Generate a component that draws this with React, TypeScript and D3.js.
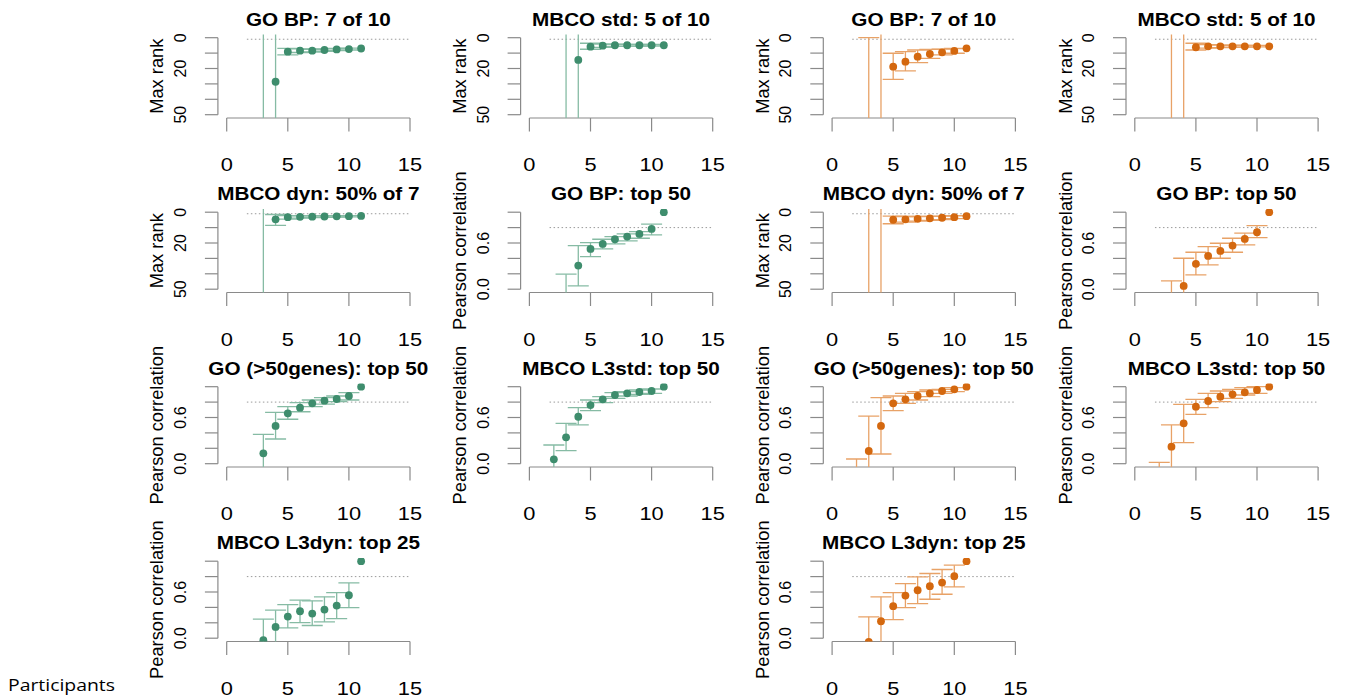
import React from "react";
import * as d3 from "d3";

// ---------- data ----------
const participants = [2, 3, 4, 5, 6, 7, 8, 9, 10, 11];
const xTicks = [0, 5, 10, 15];
const rankTicks = [0, 10, 20, 30, 40, 50];
const rankTickLabels = ["0", "", "20", "", "", "50"];
const corTicks = [0, 0.2, 0.4, 0.6, 0.8, 1.0];
const corTickLabels = ["0.0", "", "", "0.6", "", ""];

// GO BP: 7 of 10 (green)
const goBpRankGMean = [null, null, 28.6, 9.1, 8.4, 8.4, 8.0, 7.6, 7.4, 7.0];
const goBpRankGLo = [null, -5, -5, 6.9, 7.3, 7.5, 7.2, 6.9, 6.8, null];
const goBpRankGHi = [null, 60, 60, 11.2, 9.6, 9.3, 8.8, 8.4, 8.0, null];
// MBCO std: 5 of 10 (green)
const mbcoStdGMean = [null, null, 14.4, 5.8, 5.2, 4.9, 4.9, 4.9, 4.9, 4.9];
const mbcoStdGLo = [null, -5, -5, 3.6, 4.2, 4.2, 4.3, 4.3, 4.4, null];
const mbcoStdGHi = [null, 60, 60, 7.5, 6.3, 5.6, 5.5, 5.5, 5.4, null];
// GO BP: 7 of 10 (orange)
const goBpRankOMean = [null, null, null, 18.8, 15.6, 12.3, 10.6, 9.5, 8.6, 6.9];
const goBpRankOLo = [null, 0, -5, 10.1, 9.1, 8.0, 7.6, 7.4, 7.0, null];
const goBpRankOHi = [null, 60, 60, 27.0, 21.6, 16.2, 13.4, 11.2, 10.1, null];
// MBCO std: 5 of 10 (orange)
const mbcoStdOMean = [null, null, null, 6.2, 5.6, 5.6, 5.6, 5.6, 5.6, 5.6];
const mbcoStdOLo = [null, -5, -5, 3.6, 4.5, 4.8, 4.9, 5.0, 5.0, null];
const mbcoStdOHi = [null, 60, 60, 8.0, 6.8, 6.4, 6.2, 6.1, 6.0, null];
// MBCO dyn: 50% of 7 (green)
const mbcoDynGMean = [null, null, 4.6, 3.2, 3.0, 2.9, 2.8, 2.7, 2.6, 2.4];
const mbcoDynGLo = [null, -5, 1.5, 2.2, 2.3, 2.3, 2.3, 2.2, 2.2, null];
const mbcoDynGHi = [null, 60, 8.5, 4.5, 3.8, 3.5, 3.3, 3.2, 3.0, null];
// MBCO dyn: 50% of 7 (orange)
const mbcoDynOMean = [null, null, null, 4.9, 4.6, 4.3, 4.0, 3.6, 3.2, 2.6];
const mbcoDynOLo = [null, -5, -5, 2.6, 2.8, 2.8, 2.7, 2.5, 2.3, null];
const mbcoDynOHi = [null, 60, 60, 7.5, 6.5, 5.8, 5.3, 4.8, 4.2, null];
// GO BP: top 50 (green)
const goBpTopGMean = [null, -0.15, 0.307, 0.523, 0.588, 0.649, 0.684, 0.718, 0.783, 1.0];
const goBpTopGLo = [null, -0.4, 0.043, 0.424, 0.523, 0.588, 0.627, 0.662, 0.705, null];
const goBpTopGHi = [null, 0.195, 0.566, 0.605, 0.649, 0.684, 0.718, 0.748, 0.844, null];
// GO BP: top 50 (orange)
const goBpTopOMean = [null, -0.15, 0.043, 0.329, 0.432, 0.497, 0.566, 0.653, 0.74, 1.0];
const goBpTopOLo = [null, -0.4, -0.2, 0.186, 0.316, 0.402, 0.48, 0.575, 0.67, null];
const goBpTopOHi = [null, 0.108, 0.402, 0.48, 0.553, 0.597, 0.662, 0.727, 0.826, null];
// GO (>50genes): top 50 (green)
const go50GMean = [null, 0.135, 0.49, 0.654, 0.727, 0.784, 0.818, 0.84, 0.879, 1.0];
const go50GLo = [null, -0.2, 0.321, 0.577, 0.675, 0.74, 0.775, 0.805, 0.827, null];
const go50GHi = [null, 0.382, 0.667, 0.74, 0.792, 0.827, 0.857, 0.879, 0.922, null];
// MBCO L3std: top 50 (green)
const l3stdGMean = [0.057, 0.343, 0.61, 0.762, 0.836, 0.892, 0.914, 0.931, 0.944, 1.0];
const l3stdGLo = [-0.2, 0.169, 0.503, 0.688, 0.792, 0.849, 0.879, 0.901, 0.914, null];
const l3stdGHi = [0.243, 0.525, 0.727, 0.827, 0.87, 0.922, 0.935, 0.957, 0.97, null];
// GO (>50genes): top 50 (orange)
const go50OMean = [-0.15, 0.165, 0.49, 0.784, 0.836, 0.879, 0.914, 0.944, 0.966, 1.0];
const go50OLo = [-0.4, -0.2, 0.126, 0.688, 0.784, 0.827, 0.87, 0.914, 0.935, null];
const go50OHi = [0.061, 0.619, 0.857, 0.879, 0.914, 0.935, 0.957, 0.966, 0.987, null];
// MBCO L3std: top 50 (orange)
const l3stdOMean = [-0.15, 0.221, 0.525, 0.74, 0.814, 0.87, 0.901, 0.927, 0.957, 1.0];
const l3stdOLo = [-0.4, -0.2, 0.273, 0.641, 0.727, 0.805, 0.849, 0.892, 0.914, null];
const l3stdOHi = [0.018, 0.503, 0.771, 0.836, 0.914, 0.944, 0.966, 0.987, 1.0, null];
// MBCO L3dyn: top 25 (green)
const l3dynGMean = [null, -0.026, 0.147, 0.281, 0.35, 0.32, 0.372, 0.424, 0.558, 1.0];
const l3dynGLo = [null, -0.3, -0.1, 0.134, 0.203, 0.165, 0.212, 0.255, 0.398, null];
const l3dynGHi = [null, 0.247, 0.364, 0.437, 0.494, 0.485, 0.537, 0.593, 0.718, null];
// MBCO L3dyn: top 25 (orange)
const l3dynOMean = [null, -0.048, 0.22, 0.416, 0.554, 0.623, 0.675, 0.723, 0.805, 1.0];
const l3dynOLo = [null, -0.3, -0.1, 0.242, 0.398, 0.45, 0.506, 0.571, 0.666, null];
const l3dynOHi = [null, 0.277, 0.537, 0.593, 0.71, 0.797, 0.84, 0.892, 0.948, null];

// ---------- styles ----------
const GREEN = "#3e8d6d";
const GREEN_LINE = "#86bba4";
const ORANGE = "#d4680f";
const ORANGE_LINE = "#e8a267";
const AXIS = "#8a8a8a";

const COL_X0 = 226.7;
const COL_PITCH = 302.7;
const ROW_TOP = 37.7;
const ROW_PITCH = 174.5;
const PLOT_W = 183.3;
const PLOT_H = 77;

type Kind = "rank" | "cor";
interface PanelDef {
  title: string;
  kind: Kind;
  green: boolean;
  row: number;
  col: number;
  mean: (number | null)[];
  lo: (number | null)[];
  hi: (number | null)[];
}

const panels: PanelDef[] = [
  { title: "GO BP: 7 of 10", kind: "rank", green: true, row: 0, col: 0, mean: goBpRankGMean, lo: goBpRankGLo, hi: goBpRankGHi },
  { title: "MBCO std: 5 of 10", kind: "rank", green: true, row: 0, col: 1, mean: mbcoStdGMean, lo: mbcoStdGLo, hi: mbcoStdGHi },
  { title: "GO BP: 7 of 10", kind: "rank", green: false, row: 0, col: 2, mean: goBpRankOMean, lo: goBpRankOLo, hi: goBpRankOHi },
  { title: "MBCO std: 5 of 10", kind: "rank", green: false, row: 0, col: 3, mean: mbcoStdOMean, lo: mbcoStdOLo, hi: mbcoStdOHi },
  { title: "MBCO dyn: 50% of 7", kind: "rank", green: true, row: 1, col: 0, mean: mbcoDynGMean, lo: mbcoDynGLo, hi: mbcoDynGHi },
  { title: "GO BP: top 50", kind: "cor", green: true, row: 1, col: 1, mean: goBpTopGMean, lo: goBpTopGLo, hi: goBpTopGHi },
  { title: "MBCO dyn: 50% of 7", kind: "rank", green: false, row: 1, col: 2, mean: mbcoDynOMean, lo: mbcoDynOLo, hi: mbcoDynOHi },
  { title: "GO BP: top 50", kind: "cor", green: false, row: 1, col: 3, mean: goBpTopOMean, lo: goBpTopOLo, hi: goBpTopOHi },
  { title: "GO (>50genes): top 50", kind: "cor", green: true, row: 2, col: 0, mean: go50GMean, lo: go50GLo, hi: go50GHi },
  { title: "MBCO L3std: top 50", kind: "cor", green: true, row: 2, col: 1, mean: l3stdGMean, lo: l3stdGLo, hi: l3stdGHi },
  { title: "GO (>50genes): top 50", kind: "cor", green: false, row: 2, col: 2, mean: go50OMean, lo: go50OLo, hi: go50OHi },
  { title: "MBCO L3std: top 50", kind: "cor", green: false, row: 2, col: 3, mean: l3stdOMean, lo: l3stdOLo, hi: l3stdOHi },
  { title: "MBCO L3dyn: top 25", kind: "cor", green: true, row: 3, col: 0, mean: l3dynGMean, lo: l3dynGLo, hi: l3dynGHi },
  { title: "MBCO L3dyn: top 25", kind: "cor", green: false, row: 3, col: 2, mean: l3dynOMean, lo: l3dynOLo, hi: l3dynOHi },
];

const FONT = "'Liberation Sans', Arial, Helvetica, sans-serif";

function Panel({ p, idx }: { p: PanelDef; idx: number }) {
  const x0 = COL_X0 + p.col * COL_PITCH;
  const top = ROW_TOP + p.row * ROW_PITCH;
  const x = d3.scaleLinear().domain([0, 15]).range([x0, x0 + PLOT_W]);
  const isRank = p.kind === "rank";
  const y = isRank
    ? d3.scaleLinear().domain([0, 50]).range([top, top + PLOT_H])
    : d3.scaleLinear().domain([0, 1]).range([top + PLOT_H, top]);
  const boxL = x0 - 8.8;
  const boxR = x0 + PLOT_W + 8.8;
  const boxT = top - 3.1;
  const boxB = top + PLOT_H + 3.3;
  const col = p.green ? GREEN : ORANGE;
  const lineCol = p.green ? GREEN_LINE : ORANGE_LINE;
  const ticks = isRank ? rankTicks : corTicks;
  const tickLabels = isRank ? rankTickLabels : corTickLabels;
  const refY = isRank ? y(1) : y(0.8);
  const cap = 10.5;
  const clipId = `clip-${idx}`;
  const yMid = top + PLOT_H / 2;
  const cx = (boxL + boxR) / 2;

  return (
    <g>
      <defs>
        <clipPath id={clipId}>
          <rect x={boxL} y={boxT} width={boxR - boxL} height={boxB - boxT} />
        </clipPath>
      </defs>
      {/* title */}
      <text
        transform={`translate(${cx},${top - 12}) scale(1.15,1)`}
        textAnchor="middle"
        fontFamily={FONT}
        fontWeight="bold"
        fontSize={18}
        fill="#000"
      >
        {p.title}
      </text>
      {/* y axis */}
      <line x1={boxL} x2={boxL} y1={y(ticks[0])} y2={y(ticks[ticks.length - 1])} stroke={AXIS} strokeWidth={1.2} />
      {ticks.map((t, i) => (
        <g key={`yt${i}`}>
          <line x1={boxL - 13} x2={boxL} y1={y(t)} y2={y(t)} stroke={AXIS} strokeWidth={1.2} />
          {tickLabels[i] && (
            <text
              transform={`translate(${boxL - 37.5},${y(t)}) rotate(-90)`}
              textAnchor="middle"
              dominantBaseline="central"
              fontFamily={FONT}
              fontSize={16}
              fill="#000"
            >
              {tickLabels[i]}
            </text>
          )}
        </g>
      ))}
      <text
        transform={`translate(${boxL - 61},${yMid}) rotate(-90)`}
        textAnchor="middle"
        dominantBaseline="central"
        fontFamily={FONT}
        fontSize={18.3}
        fill="#000"
      >
        {isRank ? "Max rank" : "Pearson correlation"}
      </text>
      {/* x axis */}
      <line x1={x(0)} x2={x(15)} y1={boxB} y2={boxB} stroke={AXIS} strokeWidth={1.2} />
      {xTicks.map((t) => (
        <g key={`xt${t}`}>
          <line x1={x(t)} x2={x(t)} y1={boxB} y2={boxB + 13.5} stroke={AXIS} strokeWidth={1.2} />
          <text
            transform={`translate(${x(t)},${boxB + 47}) scale(1.18,1)`}
            textAnchor="middle"
            dominantBaseline="central"
            fontFamily={FONT}
            fontSize={18.5}
            fill="#000"
          >
            {t}
          </text>
        </g>
      ))}
      <g clipPath={`url(#${clipId})`}>
        {/* reference dotted line */}
        <line x1={x(1.65)} x2={x(15)} y1={refY} y2={refY} stroke="#9a9a9a" strokeWidth={1} strokeDasharray="1.5,2.5" />
        {/* error bars */}
        {participants.map((px, i) => {
          const lo = p.lo[i];
          const hi = p.hi[i];
          if (lo === null || hi === null) return null;
          const xx = x(px);
          return (
            <g key={`eb${i}`} stroke={lineCol} strokeWidth={1.3} fill="none">
              <line x1={xx} x2={xx} y1={y(lo)} y2={y(hi)} />
              <line x1={xx - cap} x2={xx + cap} y1={y(lo)} y2={y(lo)} />
              <line x1={xx - cap} x2={xx + cap} y1={y(hi)} y2={y(hi)} />
            </g>
          );
        })}
        {/* points */}
        {participants.map((px, i) => {
          const m = p.mean[i];
          if (m === null) return null;
          return <circle key={`pt${i}`} cx={x(px)} cy={y(m)} r={3.9} fill={col} />;
        })}
      </g>
    </g>
  );
}

export default function App() {
  return (
    <svg
      width={1349}
      height={700}
      style={{ position: "absolute", left: 0, top: 0, background: "#fff" }}
    >
      <rect x={0} y={0} width={1349} height={700} fill="#fff" />
      {panels.map((p, i) => (
        <Panel key={i} p={p} idx={i} />
      ))}
      <text
        x={8}
        y={691}
        fontFamily="'Open Sans', 'Noto Sans', sans-serif"
        fontSize={16}
        textLength={107}
        lengthAdjust="spacingAndGlyphs"
        fill="#000"
      >
        Participants
      </text>
    </svg>
  );
}
